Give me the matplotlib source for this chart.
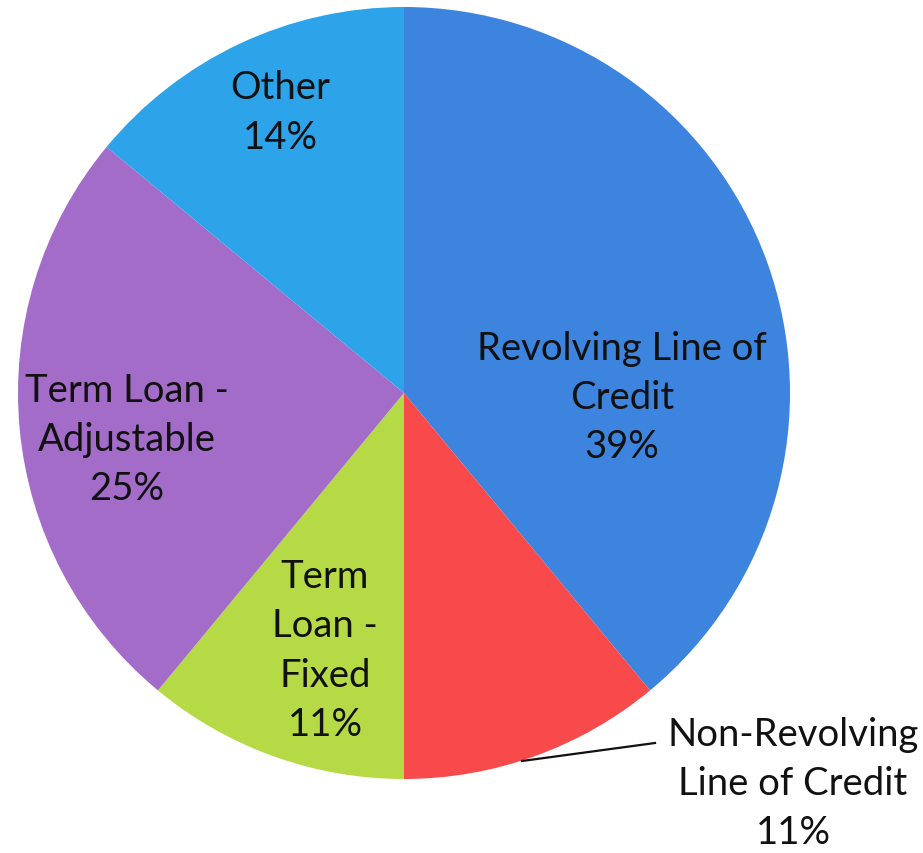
import matplotlib
matplotlib.use("Agg")
import matplotlib.pyplot as plt

# Loan mix by product type
categories = ["Revolving Line of Credit", "Non-Revolving Line of Credit",
              "Term Loan - Fixed", "Term Loan - Adjustable", "Other"]
shares = [39, 11, 11, 25, 14]
label_texts = ["Revolving Line of\nCredit", "Non-Revolving\nLine of Credit",
               "Term\nLoan -\nFixed", "Term Loan -\nAdjustable", "Other"]
colors = ["#3C84DD", "#F84A4A", "#B5DA45", "#A36CC8", "#2DA3EA"]

W, H = 923, 854
fig = plt.figure(figsize=(W / 100, H / 100), dpi=100)
ax = fig.add_axes([0, 0, 1, 1])

cx, cy, r = 404, H - 394, 386
ax.pie(shares, colors=colors, startangle=90, counterclock=False,
       center=(cx, cy), radius=r, frame=True,
       wedgeprops=dict(linewidth=0))
ax.set_xlim(0, W)
ax.set_ylim(0, H)
ax.set_aspect("equal")
ax.axis("off")

font = dict(family=["Lato", "DejaVu Sans"], fontsize=27.5, color="#111111",
            ha="center", va="center", multialignment="center", linespacing=1.45)

# label anchor points (pixel layout, y measured from top)
anchors = [(622, 398), (793, 784), (325, 651), (127, 440), (280, 113)]
for txt, val, (x, y) in zip(label_texts, shares, anchors):
    ax.text(x, H - y, f"{txt}\n{val}%", **font)

# leader line for the small red slice
ax.plot([522, 655], [H - 762, H - 744], color="#111111", linewidth=1.6)

fig.savefig("out.png", dpi=100, facecolor="white")
